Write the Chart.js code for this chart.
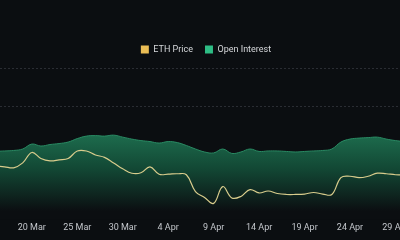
<!DOCTYPE html>
<html>
<head>
<meta charset="utf-8">
<script src="https://cdn.jsdelivr.net/npm/chart.js@4/dist/chart.umd.min.js"></script>
<style>
  html, body { margin: 0; padding: 0; background: #0b0e11; }
  #wrap { position: relative; width: 400px; height: 240px; overflow: hidden; }
  #chart { position: absolute; left: -40px; top: 0; }
</style>
</head>
<body>
<div id="wrap"><canvas id="chart" width="480" height="240"></canvas></div>
<script>
// Daily dates, 16 Mar .. 30 Apr
const dates = [
  '16 Mar', '17 Mar', '18 Mar', '19 Mar', '20 Mar', '21 Mar', '22 Mar', '23 Mar', '24 Mar', '25 Mar',
  '26 Mar', '27 Mar', '28 Mar', '29 Mar', '30 Mar', '31 Mar', '1 Apr', '2 Apr', '3 Apr', '4 Apr',
  '5 Apr', '6 Apr', '7 Apr', '8 Apr', '9 Apr', '10 Apr', '11 Apr', '12 Apr', '13 Apr', '14 Apr',
  '15 Apr', '16 Apr', '17 Apr', '18 Apr', '19 Apr', '20 Apr', '21 Apr', '22 Apr', '23 Apr', '24 Apr',
  '25 Apr', '26 Apr', '27 Apr', '28 Apr', '29 Apr', '30 Apr'
];

// ETH price (USD)
const ethPrice = [
  1911, 1900, 1889, 1944, 2061, 1994, 1967, 1978, 1994, 2078,
  2078, 2033, 2006, 1944, 1878, 1828, 1833, 1900, 1817, 1817,
  1822, 1811, 1622, 1556, 1489, 1678, 1550, 1567, 1644, 1606,
  1628, 1600, 1589, 1589, 1594, 1611, 1594, 1589, 1778, 1794,
  1778, 1794, 1828, 1822, 1811, 1811
];

// Open interest (billion USD)
const openInterest = [
  18.03, 18.16, 18.29, 18.68, 20.00, 19.47, 19.87, 20.13, 20.53, 21.45,
  22.11, 22.24, 22.11, 22.37, 21.84, 21.32, 20.92, 20.66, 20.26, 20.66,
  20.39, 19.61, 18.68, 17.89, 17.63, 18.68, 17.50, 17.89, 18.68, 18.03,
  18.16, 18.16, 18.03, 17.89, 18.03, 18.16, 18.29, 18.68, 20.53, 21.32,
  21.58, 21.71, 21.84, 21.32, 20.92, 20.66
];

const seriesNames = ['ETH Price', 'Open Interest'];
const legendColors = ['#eabd55', '#2ebd85'];
const gridValues = [30, 40];

// x is days from 20 Mar, a label every 5 days
const firstOffset = dates.indexOf('20 Mar');
const xMin = -3.5;
const xMax = 40.5;
const tickDays = dates.map((d, i) => i - firstOffset).filter(v => v % 5 === 0 && v >= xMin && v <= xMax);

function toPoints(values) {
    return values.map((v, i) => ({ x: i - firstOffset, y: v }));
}

function oiGradient(context) {
    const chart = context.chart;
    const area = chart.chartArea;
    if (!area) {
        return 'rgba(31, 112, 82, 0.8)';
    }
    const g = chart.ctx.createLinearGradient(0, area.top + 70, 0, area.bottom - 8);
    g.addColorStop(0, 'rgba(30, 112, 80, 0.97)');
    g.addColorStop(0.45, 'rgba(19, 74, 54, 0.97)');
    g.addColorStop(1, 'rgba(11, 14, 17, 1)');
    return g;
}

const ctx = document.getElementById('chart').getContext('2d');

new Chart(ctx, {
    type: 'line',
    data: {
        datasets: [
            {
                label: seriesNames[0],
                data: toPoints(ethPrice),
                yAxisID: 'y1',
                borderColor: '#d8cc8c',
                backgroundColor: legendColors[0],
                borderWidth: 1.2,
                pointRadius: 0,
                tension: 0.4,
                fill: false
            },
            {
                label: seriesNames[1],
                data: toPoints(openInterest),
                yAxisID: 'y',
                borderColor: '#2a8a63',
                backgroundColor: oiGradient,
                borderWidth: 1,
                pointRadius: 0,
                tension: 0.4,
                fill: 'start'
            }
        ]
    },
    options: {
        responsive: false,
        animation: false,
        layout: {
            padding: { top: 33, left: 40, right: 28, bottom: 4 }
        },
        plugins: {
            tooltip: { enabled: false },
            legend: {
                position: 'top',
                labels: {
                    color: '#d6d8db',
                    font: { family: 'Roboto', size: 9 },
                    boxWidth: 8,
                    boxHeight: 8,
                    padding: 12,
                    generateLabels: function(chart) {
                        return chart.data.datasets.map((ds, i) => ({
                            text: ds.label,
                            fillStyle: legendColors[i],
                            strokeStyle: legendColors[i],
                            lineWidth: 0,
                            fontColor: '#d6d8db',
                            datasetIndex: i
                        }));
                    }
                }
            }
        },
        scales: {
            x: {
                type: 'linear',
                min: xMin,
                max: xMax,
                grid: { display: false, drawTicks: false },
                border: { display: false },
                afterBuildTicks: function(scale) {
                    scale.ticks = tickDays.map(v => ({ value: v }));
                },
                ticks: {
                    padding: 3,
                    color: '#c4c7cc',
                    font: { family: 'Roboto', size: 9 },
                    maxRotation: 0,
                    autoSkip: false,
                    callback: function(value) {
                        return dates[value + firstOffset] || '';
                    }
                }
            },
            y: {
                min: 0,
                max: 41.3,
                afterBuildTicks: function(scale) {
                    scale.ticks = gridValues.map(v => ({ value: v }));
                },
                ticks: { display: false },
                grid: {
                    drawTicks: false,
                    lineWidth: 1,
                    color: '#2a2d33'
                },
                border: { display: false, dash: [2, 2] }
            },
            y1: {
                position: 'right',
                min: 1311,
                max: 3056,
                ticks: { display: false },
                grid: { display: false, drawTicks: false },
                border: { display: false },
                afterFit: function(scale) {
                    scale.width = 12;
                }
            }
        }
    }
});
</script>
</body>
</html>
